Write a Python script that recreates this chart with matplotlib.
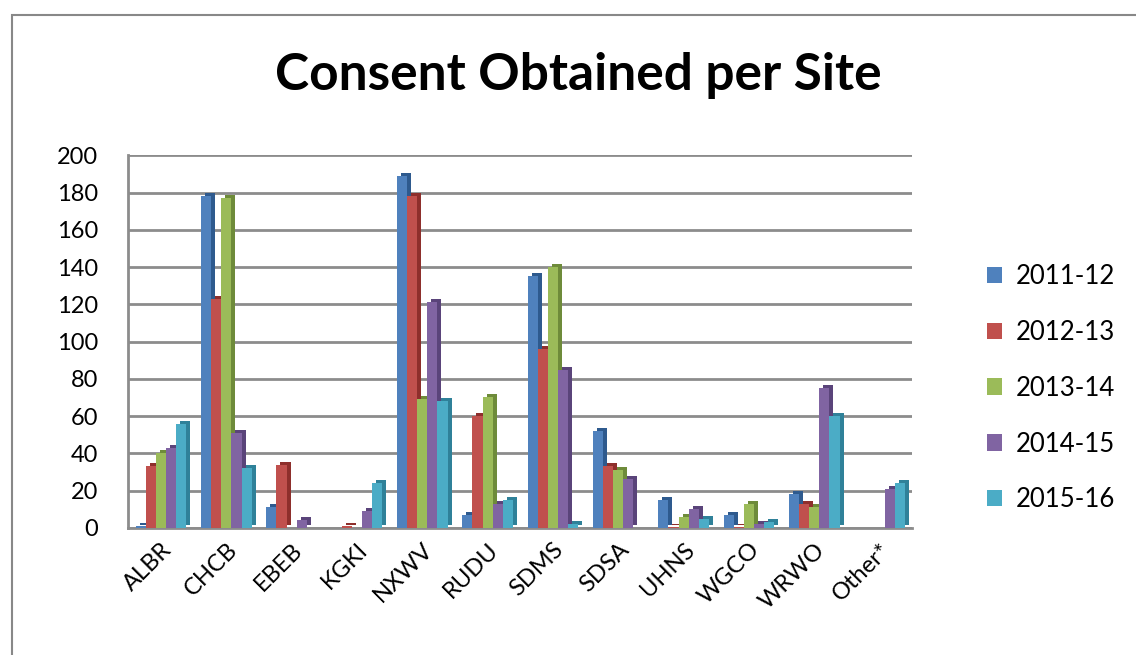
import matplotlib.pyplot as plt
import matplotlib.transforms as mtransforms
from matplotlib.patches import Rectangle
import numpy as np

sites = ['ALBR', 'CHCB', 'EBEB', 'KGKI', 'NXWV', 'RUDU', 'SDMS', 'SDSA',
         'UHNS', 'WGCO', 'WRWO', 'Other*']
years = ['2011-12', '2012-13', '2013-14', '2014-15', '2015-16']

y2011 = [1, 178, 11, 0, 189, 7, 135, 52, 15, 7, 18, 0]
y2012 = [33, 123, 34, 1, 178, 60, 96, 33, 0.5, 0.5, 13, 0]
y2013 = [40, 177, 0, 0, 69, 70, 140, 31, 6, 13, 11, 0]
y2014 = [43, 51, 4, 9, 121, 13, 85, 26, 10, 2, 75, 21]
y2015 = [56, 32, 0, 24, 68, 15, 2, 0, 5, 3, 60, 24]
series = [y2011, y2012, y2013, y2014, y2015]

colors = ['#4F81BD', '#C0504D', '#9BBB59', '#8064A2', '#4BACC6']
dark = ['#2E5A8E', '#8E2F2C', '#6E8B3A', '#5A447A', '#2F8199']

plt.rcParams['font.family'] = ['Lato', 'DejaVu Sans']

fig = plt.figure(figsize=(11.36, 6.55), dpi=100)
ax = fig.add_axes([0.113, 0.194, 0.690, 0.569])

x = np.arange(len(sites))
w = 0.155
# small shift up/right to fake the 3D depth of each bar
shift = mtransforms.ScaledTranslation(4 / 100, 3 / 100, fig.dpi_scale_trans)
for i, vals in enumerate(series):
    pos = x + (i - 2) * w
    ax.bar(pos, vals, w, color=dark[i], zorder=2,
           transform=ax.transData + shift)
    ax.bar(pos, vals, w, color=colors[i], label=years[i], zorder=3)

ax.set_xlim(-0.5, len(sites) - 0.5)
ax.set_ylim(0, 200)
ax.set_yticks(range(0, 201, 20))
ax.yaxis.grid(True, color='#8C8C8C', linewidth=2, zorder=0)
ax.set_axisbelow(True)
ax.set_xticks(x)
ax.set_xticklabels(sites, rotation=45, ha='right', rotation_mode='anchor')
ax.tick_params(axis='x', length=0, labelsize=17, pad=8)
ax.tick_params(axis='y', length=0, labelsize=17, pad=22)
for s in ['top', 'right']:
    ax.spines[s].set_visible(False)
ax.spines['left'].set_color('#8C8C8C')
ax.spines['left'].set_linewidth(2)
ax.spines['bottom'].set_color('#8C8C8C')
ax.spines['bottom'].set_linewidth(2)

fig.text(0.509, 0.885, 'Consent Obtained per Site', ha='center', va='center',
         fontsize=37, fontweight='bold')

ax.legend(loc='center left', bbox_to_anchor=(1.066, 0.375), frameon=False,
          fontsize=18.5, handlelength=0.6, handleheight=0.6,
          labelspacing=1.2, handletextpad=0.5)

# outer chart border (left and top edges visible)
fig.add_artist(Rectangle((12 / 1136, -0.1), 1.2, 1 - 15 / 655 + 0.1,
                         transform=fig.transFigure, fill=False,
                         edgecolor='#888888', linewidth=1.5))

fig.savefig('out.png', dpi=100)
